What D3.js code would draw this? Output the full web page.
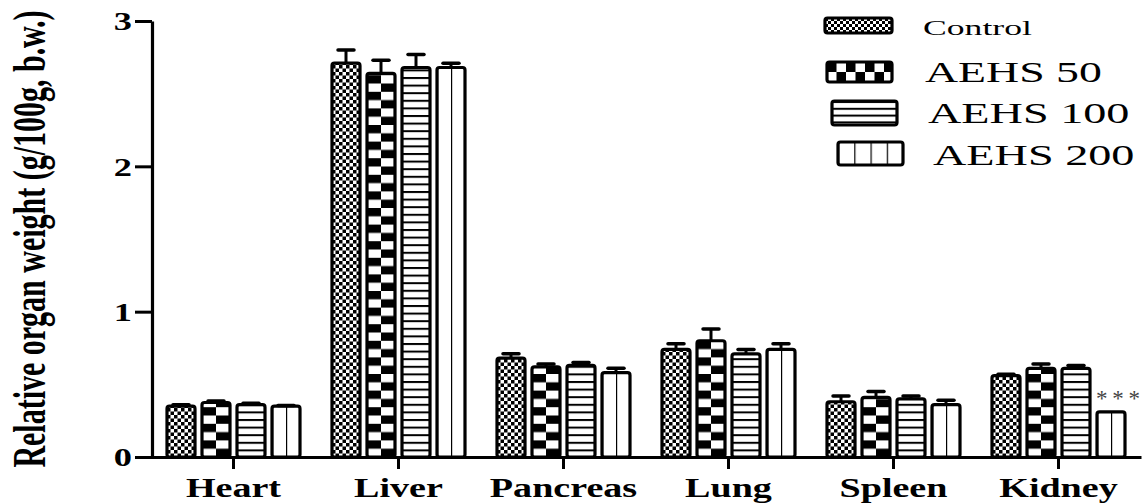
<!DOCTYPE html>
<html><head><meta charset="utf-8">
<script src="https://cdn.jsdelivr.net/npm/d3@7"></script>
<style>body{margin:0;background:#fff}svg{display:block}</style></head>
<body><svg id="c" width="1146" height="503"></svg>
<script>
const categories = ["Heart","Liver","Pancreas","Lung","Spleen","Kidney"];
const seriesNames = ["Control","AEHS 50","AEHS 100","AEHS 200"];
const control    = [0.35, 2.71, 0.68, 0.74, 0.38, 0.56];
const controlErr = [0.01, 0.09, 0.03, 0.04, 0.04, 0.01];
const aehs50     = [0.375,2.64, 0.62, 0.80, 0.41, 0.61];
const aehs50Err  = [0.01, 0.09, 0.02, 0.08, 0.04, 0.03];
const aehs100    = [0.36, 2.68, 0.63, 0.71, 0.40, 0.61];
const aehs100Err = [0.01, 0.09, 0.02, 0.03, 0.02, 0.02];
const aehs200    = [0.35, 2.68, 0.58, 0.74, 0.36, 0.31];
const aehs200Err = [0.005,0.03, 0.03, 0.04, 0.03, 0];
const yTicks = [0,1,2,3];
const yTitle = "Relative organ weight (g/100g, b.w.)";
const signif = ["","","","","","***"]; // for AEHS 200

const values = [control, aehs50, aehs100, aehs200];
const errors = [controlErr, aehs50Err, aehs100Err, aehs200Err];
const patternTypes = ["fine","checker","hlines","vlines"];

const svg = d3.select("#c");
const defs = svg.append("defs");
const SERIF = "'Liberation Serif','Times New Roman',serif";

const x0 = d3.scaleBand().domain(categories).range([151,1141]);
const x1 = d3.scaleBand().domain(seriesNames).range([16,149]).paddingInner(0.2);
const y = d3.scaleLinear().domain([0,3]).range([457,21]);

let pid = 0;
function makePattern(type, px, py, w, opts={}) {
  const id = "p" + (pid++);
  const p = defs.append("pattern").attr("id", id).attr("patternUnits","userSpaceOnUse")
    .attr("x", px).attr("y", py);
  if (type === "fine") {
    const c = opts.cell || 3.5;
    p.attr("width", 2*c).attr("height", 2*c);
    p.append("rect").attr("width",2*c).attr("height",2*c).attr("fill","#fff");
    p.append("rect").attr("x",0).attr("y",0).attr("width",c).attr("height",c).attr("fill","#000");
    p.append("rect").attr("x",c).attr("y",c).attr("width",c).attr("height",c).attr("fill","#000");
  } else if (type === "checker") {
    const cw = opts.cw || w/2, ch = opts.ch || 8.3;
    p.attr("width", 2*cw).attr("height", 2*ch);
    p.append("rect").attr("width",2*cw).attr("height",2*ch).attr("fill","#fff");
    p.append("rect").attr("x",0).attr("y",0).attr("width",cw).attr("height",ch).attr("fill","#000");
    p.append("rect").attr("x",cw).attr("y",ch).attr("width",cw).attr("height",ch).attr("fill","#000");
  } else if (type === "hlines") {
    const s = opts.s || 7.6;
    p.attr("width", 10).attr("height", s);
    p.append("rect").attr("width",10).attr("height",s).attr("fill","#fff");
    p.append("rect").attr("x",0).attr("y",0).attr("width",10).attr("height",2).attr("fill","#000");
  } else {
    const s = opts.s || w/2;
    p.attr("width", s).attr("height", 10);
    p.append("rect").attr("width",s).attr("height",10).attr("fill","#fff");
    p.append("rect").attr("x",-1.2).attr("y",0).attr("width",2.4).attr("height",10).attr("fill","#000");
  }
  return "url(#" + id + ")";
}

// Bars
const bw = x1.bandwidth();
const rows = [];
categories.forEach((cat, i) => {
  seriesNames.forEach((s, j) => {
    rows.push({cat, s, j, v: values[j][i], e: errors[j][i], sig: j===3 ? signif[i] : ""});
  });
});

const g = svg.append("g");
g.selectAll("rect.bar").data(rows).join("rect")
  .attr("class","bar")
  .attr("x", d => x0(d.cat) + x1(d.s))
  .attr("y", d => y(d.v))
  .attr("width", bw)
  .attr("height", d => y(0) - y(d.v))
  .attr("rx", 2.5)
  .attr("fill", d => makePattern(patternTypes[d.j], x0(d.cat)+x1(d.s), y(0), bw))
  .attr("stroke","#000").attr("stroke-width",3.2);

// Error bars
const eb = rows.filter(d => d.e > 0);
g.selectAll("line.ev").data(eb).join("line")
  .attr("x1", d => x0(d.cat)+x1(d.s)+bw/2).attr("x2", d => x0(d.cat)+x1(d.s)+bw/2)
  .attr("y1", d => y(d.v)).attr("y2", d => y(d.v+d.e))
  .attr("stroke","#000").attr("stroke-width",3);
g.selectAll("line.ec").data(eb).join("line")
  .attr("x1", d => x0(d.cat)+x1(d.s)+bw/2-8).attr("x2", d => x0(d.cat)+x1(d.s)+bw/2+8)
  .attr("y1", d => y(d.v+d.e)).attr("y2", d => y(d.v+d.e))
  .attr("stroke","#000").attr("stroke-width",3.5).attr("stroke-linecap","round");

// significance (above the bar)
g.selectAll("text.sig").data(rows.filter(d => d.sig)).join("text")
  .attr("x", d => x0(d.cat)+x1(d.s)+bw/2 - 15)
  .attr("y", d => y(d.v) - 6)
  .attr("text-anchor","start")
  .attr("font-family", SERIF).attr("font-size", 23).attr("fill","#444")
  .attr("textLength", 44).attr("lengthAdjust","spacing")
  .text(d => d.sig);

// Y axis
const yAxis = svg.append("g").attr("transform","translate(152,0)")
  .call(d3.axisLeft(y).tickValues(yTicks).tickSize(17).tickSizeOuter(0).tickFormat(d3.format("d")));
yAxis.select(".domain").attr("stroke-width",3.2);
yAxis.selectAll(".tick line").attr("stroke-width",3);
yAxis.selectAll(".tick text")
  .attr("font-family", SERIF).attr("font-weight","bold").attr("font-size",26).attr("fill","#000")
  .attr("x", -20/1.4).attr("dy","0.34em")
  .attr("transform","scale(1.4,1)");

// X axis
const xAxis = svg.append("g").attr("transform","translate(0,457)")
  .call(d3.axisBottom(x0).tickSize(12).tickSizeOuter(0));
xAxis.select(".domain").attr("stroke-width",3.2);
xAxis.selectAll(".tick line").attr("stroke-width",3);
xAxis.selectAll(".tick text")
  .attr("font-family", SERIF).attr("font-weight","bold").attr("font-size",28).attr("fill","#000")
  .attr("y", 40).attr("dy", 0)
  .attr("transform","scale(1.36,1)");

// Y title
svg.append("text")
  .attr("transform","translate(45,239) rotate(-90) scale(1,1.55)")
  .attr("text-anchor","middle")
  .attr("font-family", SERIF).attr("font-weight","bold").attr("font-size",30)
  .text(yTitle);

// Legend
const legendSw = [
  {x:825, y:18,  w:67, h:15, opts:{cell:3}},
  {x:827, y:62,  w:65, h:20, opts:{cw:9.5, ch:9}},
  {x:832, y:101, w:65, h:24, opts:{s:6.8}},
  {x:838, y:142, w:65, h:23, opts:{s:16.25}}
];
const legendTx = [
  {x:923, y:35,  fs:22, sx:1.62},
  {x:925, y:82,  fs:29, sx:1.58},
  {x:928, y:123, fs:30, sx:1.54},
  {x:933, y:165, fs:30, sx:1.54}
];
const lg = svg.append("g");
seriesNames.forEach((s, j) => {
  const sw = legendSw[j];
  lg.append("rect").attr("x",sw.x).attr("y",sw.y).attr("width",sw.w).attr("height",sw.h)
    .attr("rx",2.5)
    .attr("fill", makePattern(patternTypes[j], sw.x, sw.y + (j===1?1:0), sw.w, sw.opts))
    .attr("stroke","#000").attr("stroke-width",3.2);
  const t = legendTx[j];
  lg.append("text")
    .attr("transform",`translate(${t.x},${t.y}) scale(${t.sx},1)`)
    .attr("font-family", SERIF).attr("font-size", t.fs).attr("fill","#000")
    .text(s);
});
</script></body></html>
